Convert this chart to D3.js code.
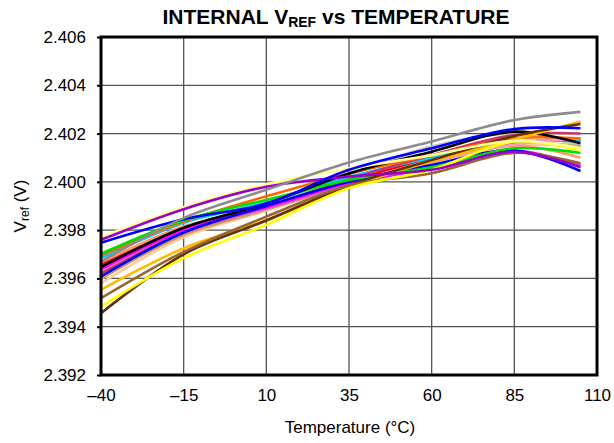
<!DOCTYPE html>
<html>
<head>
<meta charset="utf-8">
<script src="https://cdn.jsdelivr.net/npm/d3@7"></script>
<style>
  html, body { margin: 0; padding: 0; background: #fff; }
  svg { display: block; font-family: "Liberation Sans", Arial, sans-serif; }
</style>
</head>
<body>
<svg id="chart" width="614" height="443"></svg>
<script>
// ---- data ----
const temperatures = [-40, -15, 10, 35, 60, 85, 105];
const xTicks = [-40, -15, 10, 35, 60, 85, 110];
const xTickLabels = ["\u201340", "\u201315", "10", "35", "60", "85", "110"];
const yTicks = [2.392, 2.394, 2.396, 2.398, 2.400, 2.402, 2.404, 2.406];
const yTickLabels = ["2.392", "2.394", "2.396", "2.398", "2.400", "2.402", "2.404", "2.406"];

const seriesNames = [
  "lightGray", "peach", "tan", "salmon", "red", "cyan", "pink", "crimson",
  "orchid", "magenta", "blue2", "orange", "green", "black", "gold", "darkBrown",
  "brown", "yellow", "paleYellow", "purple", "blue", "gray"
];
const seriesColors = [
  "#c0c0c0", "#ffcc99", "#cc9966", "#ff9966", "#ff0000", "#00ccff", "#ff99cc", "#cc3366",
  "#cc66cc", "#ff00ff", "#0000ff", "#ff6600", "#00e000", "#000000", "#ffbb00", "#663300",
  "#996633", "#ffff00", "#ffff99", "#9900cc", "#0000ff", "#8c8c8c"
];
const lightGray  = [2.39597, 2.39785, 2.39895, 2.40030, 2.40146, 2.40200, 2.40150];
const peach      = [2.39580, 2.39770, 2.39880, 2.39990, 2.40080, 2.40150, 2.40146];
const tan        = [2.39600, 2.39780, 2.39885, 2.39990, 2.40090, 2.40165, 2.40146];
const salmon     = [2.39665, 2.39815, 2.39890, 2.39990, 2.40080, 2.40150, 2.40100];
const red        = [2.39655, 2.39805, 2.39895, 2.40000, 2.40100, 2.40160, 2.40175];
const cyan       = [2.39684, 2.39830, 2.39915, 2.40020, 2.40100, 2.40165, 2.40170];
const pink       = [2.39628, 2.39795, 2.39890, 2.39995, 2.40085, 2.40155, 2.40180];
const crimson    = [2.39620, 2.39790, 2.39895, 2.40010, 2.40110, 2.40194, 2.40200];
const orchid     = [2.39640, 2.39800, 2.39890, 2.39990, 2.40060, 2.40125, 2.40070];
const magenta    = [2.39638, 2.39800, 2.39895, 2.39995, 2.40055, 2.40130, 2.40065];
const blue2      = [2.39608, 2.39790, 2.39900, 2.40000, 2.40070, 2.40130, 2.40045];
const orange     = [2.39695, 2.39835, 2.39940, 2.40035, 2.40110, 2.40180, 2.40180];
const green      = [2.39702, 2.39840, 2.39925, 2.40008, 2.40060, 2.40139, 2.40120];
const black      = [2.39647, 2.39810, 2.39910, 2.40035, 2.40125, 2.40208, 2.40160];
const gold       = [2.39553, 2.39725, 2.39842, 2.39980, 2.40085, 2.40175, 2.40250];
const darkBrown  = [2.39456, 2.39700, 2.39840, 2.39985, 2.40090, 2.40190, 2.40240];
const brown      = [2.39518, 2.39710, 2.39856, 2.39985, 2.40036, 2.40120, 2.40077];
const yellow     = [2.39483, 2.39684, 2.39822, 2.39974, 2.40050, 2.40167, 2.40130];
const paleYellow = [2.39771, 2.39895, 2.39990, 2.40055, 2.40110, 2.40170, 2.40140];
const purple     = [2.39760, 2.39887, 2.39980, 2.40022, 2.40050, 2.40125, 2.40060];
const blue       = [2.39748, 2.39845, 2.39910, 2.40050, 2.40139, 2.40219, 2.40222];
const gray       = [2.39670, 2.39850, 2.39967, 2.40080, 2.40167, 2.40256, 2.40290];
const seriesValues = [
  lightGray, peach, tan, salmon, red, cyan, pink, crimson,
  orchid, magenta, blue2, orange, green, black, gold, darkBrown,
  brown, yellow, paleYellow, purple, blue, gray
];

// ---- layout ----
const svg = d3.select("#chart");
const plot = { left: 101, right: 597, top: 37, bottom: 375 };
const x = d3.scaleLinear().domain([-40, 110]).range([plot.left, plot.right]);
const y = d3.scaleLinear().domain([2.392, 2.406]).range([plot.bottom, plot.top]);

// grid
const grid = svg.append("g");
grid.selectAll("line.v").data(xTicks.slice(1, -1)).join("line")
  .attr("x1", d => x(d)).attr("x2", d => x(d))
  .attr("y1", plot.top).attr("y2", plot.bottom)
  .attr("stroke", "#555").attr("stroke-width", 1.3);
grid.selectAll("line.h").data(yTicks.slice(1, -1)).join("line")
  .attr("x1", plot.left).attr("x2", plot.right)
  .attr("y1", d => y(d)).attr("y2", d => y(d))
  .attr("stroke", "#555").attr("stroke-width", 1.3);

// series lines
const line = d3.line()
  .x((d, i) => x(temperatures[i]))
  .y(d => y(d))
  .curve(d3.curveCatmullRom.alpha(0.5));
svg.append("g").selectAll("path").data(seriesValues).join("path")
  .attr("d", d => line(d))
  .attr("fill", "none")
  .attr("stroke", (d, i) => seriesColors[i])
  .attr("stroke-width", 2.6)
  .attr("stroke-linejoin", "round");

// axes
const yAxis = d3.axisLeft(y).tickValues(yTicks)
  .tickFormat((d, i) => yTickLabels[i]).tickSize(4).tickPadding(11);
const gy = svg.append("g").attr("transform", `translate(${plot.left},0)`).call(yAxis);
gy.select(".domain").remove();
gy.selectAll(".tick line").attr("stroke", "#000").attr("stroke-width", 2);
gy.selectAll(".tick text").attr("font-size", 17).attr("fill", "#000")
  .attr("font-family", "'Liberation Sans', Arial, sans-serif");

const xAxis = d3.axisBottom(x).tickValues(xTicks)
  .tickFormat((d, i) => xTickLabels[i]).tickSize(0).tickPadding(14);
const gx = svg.append("g").attr("transform", `translate(0,${plot.bottom})`).call(xAxis);
gx.select(".domain").remove();
gx.selectAll(".tick text").attr("font-size", 17).attr("fill", "#000")
  .attr("font-family", "'Liberation Sans', Arial, sans-serif");

// frame
svg.append("rect")
  .attr("x", plot.left).attr("y", plot.top)
  .attr("width", plot.right - plot.left).attr("height", plot.bottom - plot.top)
  .attr("fill", "none").attr("stroke", "#000").attr("stroke-width", 3);

// title
const title = svg.append("text")
  .attr("x", 336).attr("y", 23.5)
  .attr("text-anchor", "middle")
  .attr("font-size", 21).attr("font-weight", "bold").attr("fill", "#000");
title.append("tspan").text("INTERNAL V");
title.append("tspan").attr("font-size", 14).attr("dy", 3.5).text("REF");
title.append("tspan").attr("dy", -3.5).text(" vs TEMPERATURE");

// x title
svg.append("text")
  .attr("x", 350).attr("y", 433)
  .attr("text-anchor", "middle")
  .attr("font-size", 17).attr("fill", "#000")
  .text("Temperature (\u00B0C)");

// y title
const yt = svg.append("text")
  .attr("transform", `translate(26,${(plot.top + plot.bottom) / 2}) rotate(-90)`)
  .attr("text-anchor", "middle")
  .attr("font-size", 17).attr("fill", "#000");
yt.append("tspan").text("V");
yt.append("tspan").attr("font-size", 12).attr("dy", 3).text("ref");
yt.append("tspan").attr("dy", -3).text(" (V)");
</script>
</body>
</html>
